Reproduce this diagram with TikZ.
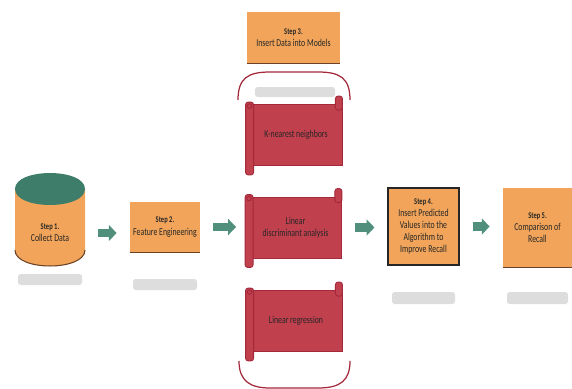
\documentclass[tikz,border=0pt]{standalone}
\usepackage{fontspec}
\setmainfont{Carlito}[FakeStretch=0.74]
\usetikzlibrary{arrows.meta,calc}

\definecolor{steporange}{HTML}{F2A55A}
\definecolor{stepedge}{HTML}{6B4226}
\definecolor{dbtop}{HTML}{3F7D6B}
\definecolor{flowgreen}{HTML}{4F8F7C}
\definecolor{scrollred}{HTML}{C0404D}
\definecolor{scrolledge}{HTML}{A3283A}
\definecolor{blurgray}{HTML}{DDDDDD}

\begin{document}
\begin{tikzpicture}[x=0.02cm, y=-0.02cm,
  stepbox/.style={fill=steporange, text=black!85, inner sep=1pt, align=center,
    font=\fontsize{6}{6.9}\selectfont},
  modelbox/.style={fill=scrollred, draw=scrolledge, line width=0.5pt,
    minimum width=1.84cm, minimum height=1.22cm, inner sep=1pt, align=center,
    text=black!85, font=\fontsize{6}{6.9}\selectfont},
  roll/.style={fill=scrollred, draw=scrolledge, line width=0.5pt, rounded corners=1.5pt},
  flow/.style={draw=flowgreen, line width=5pt, -{Triangle[width=9pt,length=4.5pt]},
    shorten <=0.26cm, shorten >=0.26cm},
  bracket/.style={draw=scrolledge, line width=0.7pt},
  shadowbar/.style={fill=blurgray, rounded corners=1.5pt},
  bottomline/.style={draw=stepedge, line width=0.6pt}]
\useasboundingbox (0,0) rectangle (572,389);

% database cylinder
\fill[steporange] (15,189) -- (15,250) .. controls (15,271.3) and (85,271.3) .. (85,250) -- (85,189) -- cycle;
\draw[bottomline] (15,250) .. controls (15,271.3) and (85,271.3) .. (85,250);
\fill[dbtop] (15,189) .. controls (15,167.7) and (85,167.7) .. (85,189)
  .. controls (85,210.3) and (15,210.3) .. (15,189);
\node[minimum width=1.4cm, minimum height=1.2cm, inner sep=1pt, align=center,
  text=black!85, font=\fontsize{6}{6.9}\selectfont] (s1) at (50,233)
  {{\tiny\bfseries Step 1.}\\Collect Data};

% steps
\node[stepbox, minimum width=1.4cm, minimum height=1.0cm] (s2) at (165,227)
  {{\tiny\bfseries Step 2.}\\Feature Engineering};
\node[stepbox, minimum width=1.86cm, minimum height=1.02cm] (s3) at (293.5,37.5)
  {{\tiny\bfseries Step 3.}\\Insert Data into Models};
\node[stepbox, draw=black!85, line width=0.6pt, minimum width=1.42cm, minimum height=1.54cm] (s4) at (423.5,226.5)
  {{\tiny\bfseries Step 4.}\\Insert Predicted\\Values into the\\Algorithm to\\Improve Recall};
\node[stepbox, minimum width=1.38cm, minimum height=1.58cm] (s5) at (537.5,227.5)
  {{\tiny\bfseries Step 5.}\\Comparison of\\Recall};
\draw[bottomline] (s2.south west) -- (s2.south east);
\draw[bottomline] (s3.south west) -- (s3.south east);
\draw[bottomline] (s5.south west) -- (s5.south east);

% models
\node[modelbox] (m1) at (296,135) {K-nearest neighbors};
\node[modelbox] (m2) at (295.5,227.5) {Linear\\discriminant analysis};
\node[modelbox] (m3) at (296,321) {Linear regression};
\foreach \m in {m1,m2,m3} {
  \draw[roll] ($(\m.north west)+(-4,-2)$) rectangle ($(\m.south west)+(4,9)$);
  \draw[scrolledge, line width=0.5pt] ($(\m.north west)+(0,2)$) circle[radius=1.3pt];
  \draw[roll] ($(\m.north east)+(-7,-8)$) rectangle ($(\m.north east)+(0,6)$);
}

% brackets round the models
\draw[bracket] (238,100) .. controls (238,78) and (248,72) .. (270,72) -- (318,72)
  .. controls (340,72) and (350,78) .. (350,100);
\draw[bracket] (239,361) .. controls (239,381) and (250,388) .. (270,388) -- (318,388)
  .. controls (340,388) and (350,381) .. (350,361);

% blurred captions
\fill[shadowbar] (18,274) rectangle (82,285);
\fill[shadowbar] (133,279) rectangle (197,290);
\fill[shadowbar] (255,87) rectangle (335,97);
\fill[shadowbar] (392,292) rectangle (455,304);
\fill[shadowbar] (507,292) rectangle (568,304);

% flow arrows
\draw[flow] (s1.east) -- (s1.east -| s2.west);
\draw[flow] (s2.east) -- (s2.east -| m2.west);
\draw[flow] (m2.east) -- (m2.east -| s4.west);
\draw[flow] (s4.east) -- (s4.east -| s5.west);
\end{tikzpicture}
\end{document}
